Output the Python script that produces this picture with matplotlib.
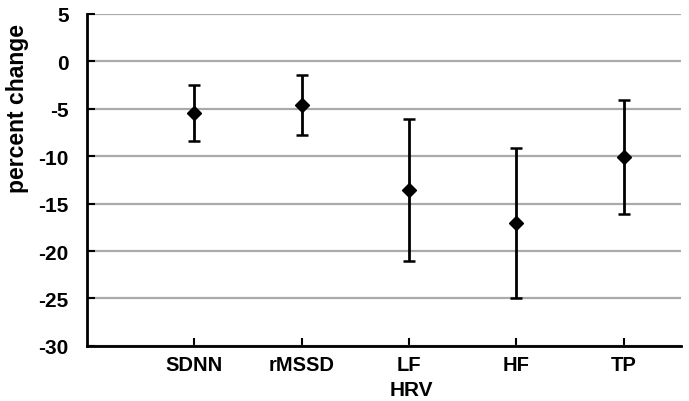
import matplotlib.pyplot as plt
import numpy as np

plt.rcParams['font.family'] = ['Liberation Sans', 'DejaVu Sans']
plt.rcParams['axes.unicode_minus'] = False

categories = ['SDNN', 'rMSSD', 'LF', 'HF', 'TP']
mean_change = [-5.45, -4.6, -13.6, -17.0, -10.1]
upper = [-2.45, -1.45, -6.1, -9.1, -4.1]
lower = [-8.35, -7.75, -21.1, -24.9, -16.1]

x = np.arange(1, len(categories) + 1)
mean = np.asarray(mean_change)
err = [mean - np.asarray(lower), np.asarray(upper) - mean]

fig = plt.figure(figsize=(6.89, 4.02), dpi=100)
ax = fig.add_axes([0.126, 0.137, 0.862, 0.826])

ax.errorbar(x, mean, yerr=err, fmt='D', color='black', markersize=7,
            elinewidth=2, capsize=4, capthick=1.8, zorder=3)

ax.set_xlim(0, 5.53)
ax.set_ylim(-30, 5)
ax.set_yticks(np.arange(-30, 6, 5))
ax.set_xticks(x)
ax.set_xticklabels(categories)
ax.yaxis.grid(True, color='#aaaaaa', linewidth=1.6)
ax.set_axisbelow(True)

for s in ['top', 'right']:
    ax.spines[s].set_visible(False)
for s in ['left', 'bottom']:
    ax.spines[s].set_linewidth(2)

ax.tick_params(direction='in', length=6, width=1.5)
ax.tick_params(axis='y', labelsize=15, pad=13)
ax.tick_params(axis='x', labelsize=14.5, pad=6.5)
for lab in ax.get_xticklabels() + ax.get_yticklabels():
    lab.set_fontweight('bold')

ax.set_xlabel('HRV', fontsize=15, fontweight='bold')
ax.xaxis.set_label_coords(0.546, -0.103)
ax.set_ylabel('percent change', fontsize=16.5, fontweight='bold')
ax.yaxis.set_label_coords(-0.098, 0.717)

fig.savefig('out.png', dpi=100)
